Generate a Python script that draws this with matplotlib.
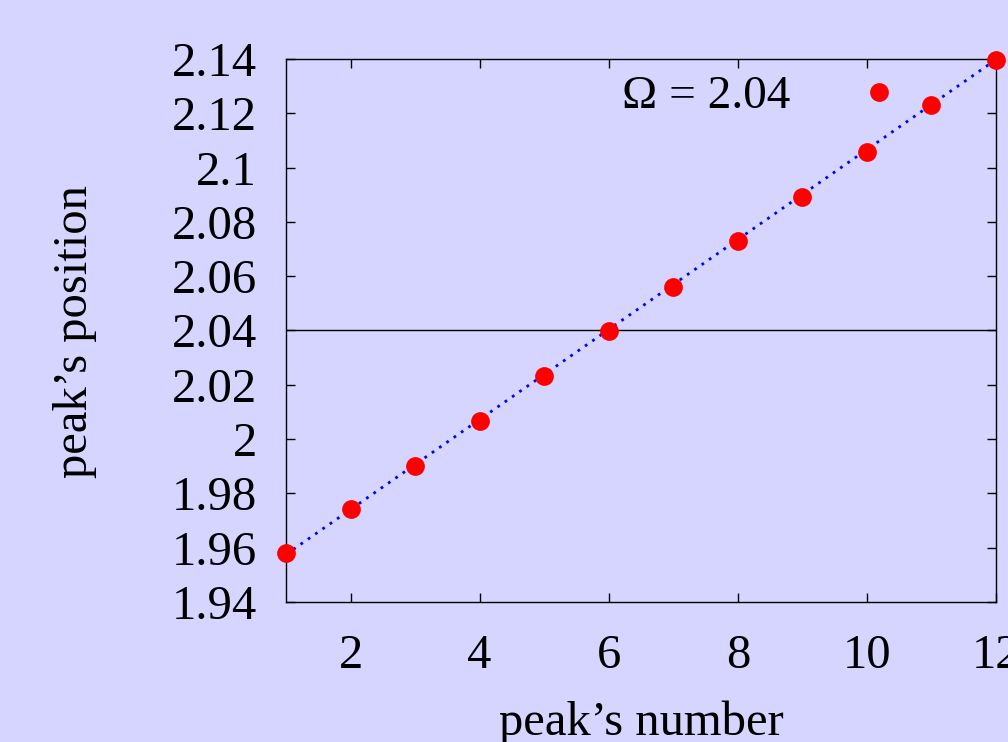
import matplotlib
matplotlib.use("Agg")
import matplotlib.pyplot as plt

peak_number = [1, 2, 3, 4, 5, 6, 7, 8, 9, 10, 10.19, 11, 12]
peak_position = [1.958, 1.9743, 1.990, 2.0067, 2.0232, 2.0398, 2.056, 2.073,
                 2.089, 2.1057, 2.1278, 2.123, 2.1396]
fit_x = [1, 12]
fit_y = [1.9575, 2.1398]
omega = 2.04
xticks = [2, 4, 6, 8, 10, 12]
yticks = [1.94, 1.96, 1.98, 2.00, 2.02, 2.04, 2.06, 2.08, 2.10, 2.12, 2.14]
ytick_labels = ["1.94", "1.96", "1.98", "2", "2.02", "2.04", "2.06", "2.08", "2.1", "2.12", "2.14"]

W, H = 1008, 742
bg = "#d5d5ff"
plt.rcParams["font.family"] = ["Liberation Serif", "DejaVu Serif"]

fig = plt.figure(figsize=(W / 100, H / 100), dpi=100, facecolor=bg)
ax = fig.add_axes([286 / W, 1 - 602 / H, 710 / W, 543 / H])
ax.set_facecolor(bg)

ax.axhline(omega, color="black", lw=1.0)
ax.plot(fit_x, fit_y, linestyle=(0, (1, 2.2)), color="blue", lw=2.0, clip_on=False)
ax.plot(peak_number, peak_position, "o", color="red", ms=13.5, mec="none",
        clip_on=False, zorder=5)

ax.set_xlim(1, 12)
ax.set_ylim(1.94, 2.14)
ax.set_xticks(xticks)
ax.set_xticklabels([str(t) for t in xticks])
ax.set_yticks(yticks)
ax.set_yticklabels(ytick_labels)
ax.tick_params(direction="in", length=6.5, width=1, top=True, right=True,
               labelsize=35)
ax.tick_params(axis="y", pad=21)
ax.tick_params(axis="x", pad=23)
for s in ax.spines.values():
    s.set_linewidth(1.0)

fig.text(641 / W, 1 - 735 / H, "peak’s number", fontsize=35,
         ha="center", va="baseline")
fig.text(75.5 / W, 1 - 332 / H, "peak’s position", fontsize=35,
         ha="center", va="center", rotation=90)
ax.text((622 - 286) / 710, (602 - 108) / 543, "Ω = 2.04", transform=ax.transAxes,
        fontsize=34, ha="left", va="baseline")

fig.savefig("out.png", dpi=100, facecolor=bg)
